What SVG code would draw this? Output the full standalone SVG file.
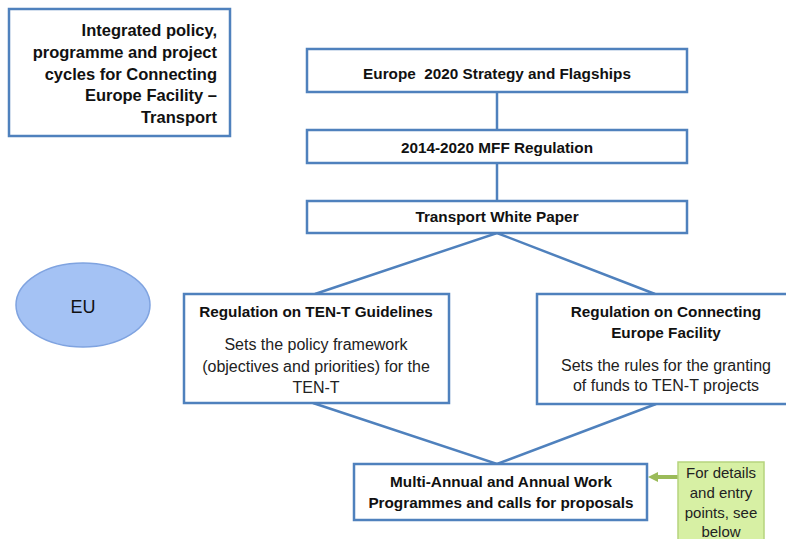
<svg xmlns="http://www.w3.org/2000/svg" width="786" height="539" viewBox="0 0 786 539">
  <defs>
    <marker id="greenHead" markerWidth="10" markerHeight="10" refX="1" refY="5" orient="auto" markerUnits="userSpaceOnUse">
      <path d="M0,0 L10,5 L0,10 Z" fill="#9bbb59"/>
    </marker>
  </defs>
  <style>
    .box { fill: #ffffff; stroke: #4f81bd; stroke-width: 2.5; }
    .link { stroke: #4f81bd; stroke-width: 2.5; fill: none; }
    .b { font-family: "Liberation Sans", Arial, sans-serif; font-weight: bold; font-size: 15.3px; fill: #111; text-anchor: middle; }
    .r { font-family: "Liberation Sans", Arial, sans-serif; font-size: 16px; fill: #222; text-anchor: middle; }
    .title { font-family: "Liberation Sans", Arial, sans-serif; font-weight: bold; font-size: 16.5px; fill: #111; text-anchor: end; }
    .note { font-family: "Liberation Sans", Arial, sans-serif; font-size: 15px; fill: #222; text-anchor: middle; }
  </style>
  <rect width="786" height="539" fill="#ffffff"/>

  <!-- connectors -->
  <g id="connectors">
    <line class="link" x1="497" y1="92" x2="497" y2="130"/>
    <line class="link" x1="497" y1="163" x2="497" y2="201"/>
    <polyline class="link" points="315,294 497,233 655,294"/>
    <polyline class="link" points="313,403 497,464 656,404"/>
    <line x1="678" y1="477" x2="657" y2="477" stroke="#9bbb59" stroke-width="4" marker-end="url(#greenHead)"/>
  </g>

  <g id="title">
    <rect class="box" x="9" y="9" width="221" height="127"/>
    <text class="title" x="217" y="36">Integrated policy,</text>
    <text class="title" x="217" y="58">programme and project</text>
    <text class="title" x="217" y="80">cycles for Connecting</text>
    <text class="title" x="217" y="101">Europe Facility –</text>
    <text class="title" x="217" y="123">Transport</text>
  </g>

  <g id="europe2020">
    <rect class="box" x="307" y="49" width="380" height="43"/>
    <text class="b" x="497" y="79" xml:space="preserve">Europe  2020 Strategy and Flagships</text>
  </g>

  <g id="mff">
    <rect class="box" x="307" y="130" width="380" height="33"/>
    <text class="b" x="497" y="153">2014-2020 MFF Regulation</text>
  </g>

  <g id="whitepaper">
    <rect class="box" x="307" y="201" width="380" height="32"/>
    <text class="b" x="497" y="222">Transport White Paper</text>
  </g>

  <g id="eu">
    <ellipse cx="83" cy="305" rx="67" ry="42" fill="#a4c2f4" stroke="#7fa3e0" stroke-width="1.5"/>
    <text class="r" x="83" y="313" style="font-size:18px;fill:#111">EU</text>
  </g>

  <g id="tent">
    <rect class="box" x="184" y="294" width="265" height="109"/>
    <text class="b" x="316" y="317">Regulation on TEN-T Guidelines</text>
    <text class="r" x="316" y="350">Sets the policy framework</text>
    <text class="r" x="316" y="372">(objectives and priorities) for the</text>
    <text class="r" x="316" y="393">TEN-T</text>
  </g>

  <g id="cef">
    <rect class="box" x="537" y="294" width="260" height="110"/>
    <text class="b" x="666" y="317">Regulation on Connecting</text>
    <text class="b" x="666" y="338">Europe Facility</text>
    <text class="r" x="666" y="371">Sets the rules for the granting</text>
    <text class="r" x="666" y="391">of funds to TEN-T projects</text>
  </g>

  <g id="workprogrammes">
    <rect class="box" x="354" y="464" width="293" height="56"/>
    <text class="b" x="501" y="487">Multi-Annual and Annual Work</text>
    <text class="b" x="501" y="508">Programmes and calls for proposals</text>
  </g>

  <g id="details">
    <rect x="678" y="462" width="86" height="90" fill="#d7f0a4" stroke="#b6d47e" stroke-width="1.5"/>
    <text class="note" x="721" y="478">For details</text>
    <text class="note" x="721" y="498">and entry</text>
    <text class="note" x="721" y="518">points, see</text>
    <text class="note" x="721" y="537">below</text>
  </g>
</svg>
